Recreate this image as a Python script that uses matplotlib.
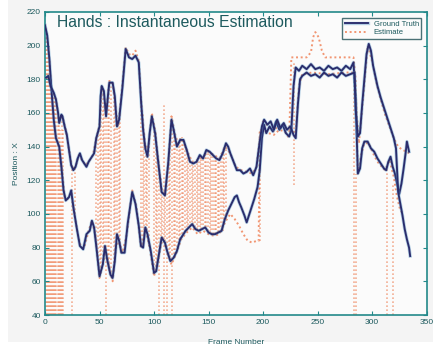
import numpy as np
import matplotlib
matplotlib.use("Agg")
import matplotlib.pyplot as plt
import matplotlib.patheffects as pe
from matplotlib.patches import Rectangle

plt.rcParams['font.family'] = ['Liberation Sans', 'DejaVu Sans']

# ground truth, hand A
gt_a_frames = [0, 2, 4, 6, 8, 10, 13, 15, 17, 19, 22, 24, 26, 29, 32, 35, 38, 41, 43, 45,
               47, 50, 53, 55, 57, 60, 62, 64, 66, 68, 70, 73, 76, 80, 83, 86, 88, 90, 92, 94,
               97, 100, 102, 105, 107, 110, 112, 115, 118, 121, 124, 127, 129, 132, 135, 138,
               141, 144, 147, 150, 153, 156, 159, 162, 165, 168, 171, 174, 176, 178, 180, 183,
               185, 187, 189, 192, 195, 197, 199, 201, 203, 206, 209, 212, 215, 218, 221, 224,
               226, 228, 230, 233, 236, 240, 244, 248, 252, 256, 260, 264, 268, 272, 276, 280,
               283, 285, 287, 289, 291, 293, 296, 299, 302, 305, 308, 311, 313, 315, 317, 319,
               321, 323, 325, 327, 329, 331, 332, 334]
gt_a_vals = [212, 206, 192, 173, 156, 145, 140, 128, 114, 108, 110, 114, 104, 92, 81, 79, 88, 90, 96, 92,
             81, 63, 70, 81, 73, 64, 62, 72, 88, 84, 77, 77, 95, 113, 106, 93, 81, 80, 92, 88,
             78, 65, 66, 78, 86, 83, 78, 72, 74, 78, 85, 88, 90, 92, 94, 91,
             90, 91, 92, 89, 88, 88, 89, 90, 97, 102, 106, 110, 111, 107, 104, 99,
             95, 99, 103, 109, 116, 126, 145, 153, 148, 152, 149, 155, 150, 153, 148, 146,
             150, 176, 187, 185, 188, 186, 189, 186, 187, 185, 188, 186, 187, 185, 188, 186,
             190, 168, 124, 127, 139, 143, 143, 139, 137, 133, 130, 127, 126, 131, 134, 128,
             124, 118, 112, 118, 127, 137, 143, 137]

# ground truth, hand B
gt_b_frames = [1, 3, 5, 8, 10, 12, 13, 15, 16, 18, 20, 22, 24, 26, 28, 30, 32, 34, 36, 38,
               40, 42, 45, 47, 50, 51, 52, 54, 56, 58, 59, 62, 64, 66, 68, 71, 74, 77, 80, 83,
               86, 88, 90, 92, 94, 96, 98, 101, 104, 107, 110, 113, 116, 118, 121, 124, 127,
               130, 133, 136, 139, 142, 145, 148, 151, 154, 157, 160, 163, 166, 168, 170, 173,
               176, 179, 182, 185, 188, 191, 194, 197, 199, 201, 204, 207, 210, 213, 216, 219,
               222, 225, 228, 230, 232, 234, 236, 240, 244, 248, 252, 256, 260, 264, 268, 272,
               276, 280, 284, 285, 287, 289, 291, 293, 295, 297, 299, 301, 303, 305, 308, 311,
               314, 317, 320, 322, 324, 326, 328, 330, 332, 334, 335]
gt_b_vals = [181, 182, 176, 172, 168, 160, 154, 159, 158, 152, 147, 138, 129, 126, 128, 133, 136, 132, 130, 128,
             131, 133, 136, 145, 152, 170, 176, 173, 158, 172, 178, 178, 170, 152, 156, 175, 198, 193, 192, 194,
             190, 168, 150, 139, 134, 148, 158, 148, 130, 113, 111, 130, 156, 150, 140, 144, 144,
             138, 131, 130, 131, 135, 133, 138, 137, 135, 133, 132, 136, 142, 140, 136, 131,
             126, 126, 124, 125, 127, 123, 128, 143, 152, 156, 153, 155, 150, 156, 151, 154,
             150, 152, 147, 145, 165, 180, 182, 184, 182, 183, 181, 184, 182, 183, 181, 184,
             182, 183, 184, 162, 146, 148, 165, 180, 195, 201, 197, 188, 182, 176, 169, 163,
             157, 151, 145, 139, 113, 106, 99, 91, 85, 80, 75]

# per-frame estimate, tracking hand A
est_a_frames = [0, 3, 6, 9, 12, 15, 18, 21, 24, 27, 30, 33, 36, 40, 43, 46, 50, 53, 56, 59,
                62, 65, 68, 71, 75, 80, 84, 88, 92, 96, 100, 104, 108, 112, 116, 120, 125, 130,
                135, 140, 145, 150, 155, 160, 166, 170, 174, 178, 182, 186, 190, 194, 196, 197,
                200, 205, 210, 215, 220, 224, 226, 230, 240, 244, 246, 248, 251, 254, 257, 270,
                283, 285, 287, 290, 293, 297, 301, 305, 309, 312, 316, 320, 323, 326, 329]
est_a_vals = [213, 200, 172, 150, 141, 130, 110, 109, 113, 100, 88, 80, 80, 90, 96, 88, 62, 70, 80, 68,
              60, 80, 84, 77, 88, 114, 104, 80, 91, 80, 63, 74, 86, 78, 70, 76, 85, 89,
              92, 88, 90, 88, 87, 88, 96, 100, 97, 93, 88, 84, 83, 84, 84, 150,
              150, 148, 147, 150, 149, 145, 193, 193, 193, 196, 205, 208, 205, 197, 193, 193,
              193, 180, 124, 135, 142, 142, 136, 131, 128, 126, 132, 122, 110, 102, 100]

# per-frame estimate, tracking hand B
est_b_frames = [1, 4, 7, 10, 13, 16, 19, 22, 25, 28, 31, 34, 37, 40, 44, 47, 50, 52, 54, 56,
                59, 62, 65, 67, 70, 74, 77, 80, 83, 86, 89, 92, 95, 98, 101, 104, 107, 110,
                113, 116, 119, 122, 126, 130, 135, 140, 145, 150, 155, 160, 165, 170, 175, 180,
                185, 190, 194, 197, 200, 205, 210, 215, 220, 225, 230, 233, 236, 245, 260, 275,
                284, 286, 288, 292, 296, 300, 304, 308, 312, 316, 320, 324, 328, 332, 334]
est_b_vals = [181, 180, 173, 168, 155, 158, 150, 138, 127, 128, 135, 132, 129, 131, 135, 145, 153, 176, 170, 160,
              179, 178, 162, 152, 170, 199, 195, 194, 197, 191, 160, 140, 140, 160, 150, 131, 114, 112,
              130, 158, 148, 142, 145, 138, 131, 132, 134, 137, 135, 133, 140, 136, 128, 126,
              125, 124, 128, 145, 155, 152, 149, 154, 151, 150, 148, 176, 183, 184, 183, 184,
              184, 160, 142, 170, 200, 191, 178, 168, 159, 152, 145, 140, 138, 137, 136]

# frames where the estimate jumps, with the top and bottom of each jump
jump_frames = [0.5, 1.5, 2.5, 3.5, 4.5, 5.5, 6.5, 7.5, 8.5, 9.5, 10.5, 11.5, 12.5, 13.5,
               14.5, 15.5, 16.5, 24.5, 27.5,
               47, 48.5, 50, 51.5, 53, 54.5, 56, 57.5, 59, 60.5, 63, 64.5, 66, 67.5, 69,
               88, 89.5, 91, 92.5, 94, 95.5,
               100, 101.5, 103, 104.5, 106, 107.5, 109, 110.5, 112, 113.5, 115, 116.5, 118,
               119.5, 121, 122.5, 124, 125.5, 127, 128.5, 130, 131.5, 133, 134.5, 136, 137.5,
               139, 140.5, 142, 143.5, 145, 146.5, 148, 149.5, 151, 152.5, 154, 155.5, 157,
               158.5, 160, 161.5, 163, 164.5, 166,
               197, 228, 283.5, 285.5, 313.5, 319.5]
jump_top = [211, 208, 204, 196, 186, 178, 174, 172, 170, 168, 165, 160, 156, 150,
            142, 158, 150, 128, 128,
            145, 150, 152, 175, 174, 166, 158, 170, 178, 178, 175, 168, 155, 154, 162,
            168, 160, 150, 140, 134, 142,
            150, 148, 140, 132, 122, 116, 166, 112, 122, 130, 145, 158, 150,
            146, 142, 143, 145, 146, 144, 141, 138, 136, 132, 131, 130, 131,
            131, 133, 135, 134, 133, 136, 138, 138, 137, 136, 135, 134, 133,
            133, 132, 134, 136, 140, 142,
            150, 190, 190, 124, 127, 118]
jump_bot = [40, 40, 40, 40, 40, 40, 40, 40, 40, 40, 40, 40, 40, 40,
            40, 40, 40, 40, 100,
            82, 72, 63, 66, 70, 78, 40, 73, 66, 63, 66, 76, 86, 84, 80,
            82, 80, 86, 91, 88, 82,
            65, 66, 70, 40, 82, 86, 40, 84, 40, 76, 72, 40, 74,
            76, 78, 82, 85, 86, 88, 89, 90, 91, 92, 93, 94, 92,
            91, 90, 90, 91, 91, 92, 92, 90, 89, 88, 88, 88, 88,
            89, 89, 90, 90, 94, 97,
            84, 117, 40, 40, 40, 40]

x_ticks = [0, 50, 100, 150, 200, 250, 300, 350]
y_ticks = [40, 60, 80, 100, 120, 140, 160, 180, 200, 220]

teal = '#23898a'
text_col = '#1d5a5e'
navy = '#2a2c6c'
orange = '#ef7c50'
dots = (0, (1, 1.4))

fig = plt.figure(figsize=(4.33, 3.5), dpi=100, facecolor='white')
# light grey panel behind the plot, leaving a thin white margin bottom/left
fig.patches.append(Rectangle((0.018, 0.022), 0.982, 0.978, transform=fig.transFigure,
                             facecolor='#f4f4f4', edgecolor='none', zorder=-10))
ax = fig.add_axes([0.104, 0.1, 0.881, 0.866])
ax.set_facecolor('#fbfbfb')

# estimate: jumps first, then the two tracked paths
ax.vlines(jump_frames, jump_bot, jump_top, colors=orange, linestyles=dots,
          linewidth=1.2, alpha=0.6, zorder=1)
ax.plot(est_a_frames, est_a_vals, color=orange, linestyle=dots, linewidth=1.4,
        alpha=0.8, zorder=2)
ax.plot(est_b_frames, est_b_vals, color=orange, linestyle=dots, linewidth=1.4,
        alpha=0.8, zorder=2, label='Estimate')

# ground truth for both hands
halo = [pe.Stroke(linewidth=2.4, foreground='#4b8fc2', alpha=0.4), pe.Normal()]
ax.plot(gt_a_frames, gt_a_vals, color=navy, linewidth=1.35, zorder=3, path_effects=halo)
ax.plot(gt_b_frames, gt_b_vals, color=navy, linewidth=1.35, zorder=3, path_effects=halo,
        label='Ground Truth')

ax.set_xlim(0, 350)
ax.set_ylim(40, 220)
ax.set_xticks(x_ticks)
ax.set_yticks(y_ticks)
ax.tick_params(direction='in', length=3, width=0.8, color=teal, labelcolor=text_col,
               labelsize=6, top=True, right=True, pad=3)
for s in ax.spines.values():
    s.set_color(teal)
    s.set_linewidth(1.2)

ax.set_xlabel('Frame Number', fontsize=6, color=text_col, labelpad=9)
ax.set_ylabel('Position : X', fontsize=6, color=text_col, labelpad=5)

ax.text(0.031, 0.99, 'Hands : Instantaneous Estimation', transform=ax.transAxes,
        ha='left', va='top', fontsize=11.3, color=text_col)

handles, labels = ax.get_legend_handles_labels()
leg = ax.legend(handles[::-1], labels[::-1], loc='upper right', bbox_to_anchor=(0.99, 0.985),
                fontsize=5.5, frameon=True, fancybox=False, borderpad=0.3,
                handlelength=3, labelspacing=0.2, handletextpad=0.8, borderaxespad=0.2)
leg.get_frame().set_edgecolor('#1f4f55')
leg.get_frame().set_linewidth(1.0)
leg.get_frame().set_facecolor('#fbfbfb')
for t in leg.get_texts():
    t.set_color(text_col)

fig.savefig('out.png', dpi=100, facecolor=fig.get_facecolor())
